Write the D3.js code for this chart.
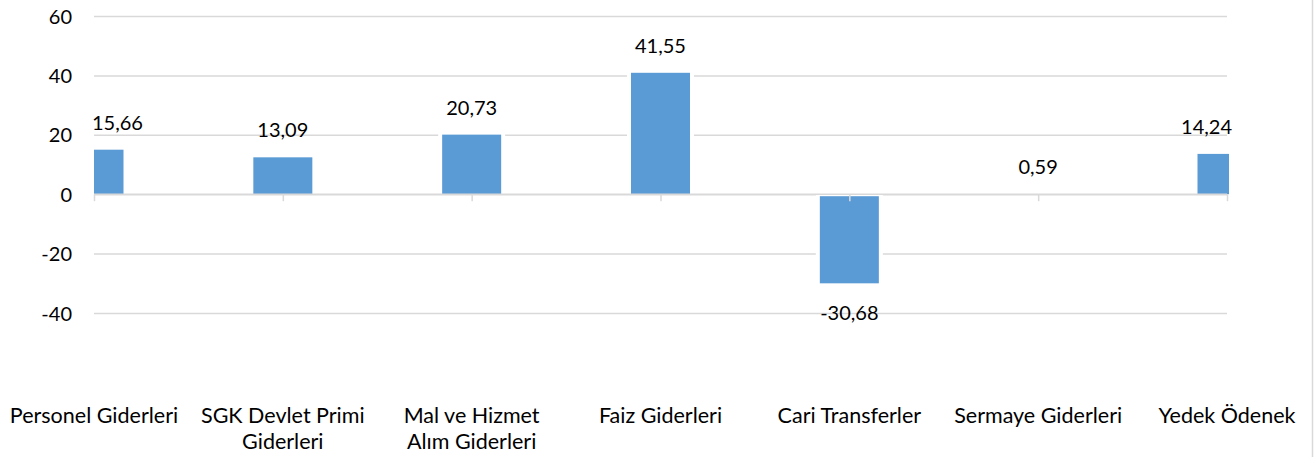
<!DOCTYPE html>
<html>
<head>
<meta charset="utf-8">
<script src="https://cdn.jsdelivr.net/npm/d3@7"></script>
<style>
  html, body { margin: 0; padding: 0; background: #fff; }
  svg { display: block; }
  text { font-family: Lato, "Open Sans", sans-serif; fill: #000; }
</style>
</head>
<body>
<svg id="chart" width="1315" height="457"></svg>
<script>
// ---- data ----
const categories = [
  "Personel Giderleri",
  "SGK Devlet Primi\nGiderleri",
  "Mal ve Hizmet\nAlım Giderleri",
  "Faiz Giderleri",
  "Cari Transferler",
  "Sermaye Giderleri",
  "Yedek Ödenek"
];
const values = [15.66, 13.09, 20.73, 41.55, -30.68, 0.59, 14.24];
const valueLabels = ["15,66", "13,09", "20,73", "41,55", "-30,68", "0,59", "14,24"];
const yTicks = [-40, -20, 0, 20, 40, 60];

// ---- layout ----
const W = 1315, H = 457;
const plot = { left: 94, right: 1227, top: 16, bottom: 313 };
const svg = d3.select("#chart");

const x = d3.scalePoint().domain(d3.range(categories.length)).range([plot.left, plot.right]).padding(0);
const y = d3.scaleLinear().domain([-40, 60]).range([plot.bottom, plot.top]);
const step = x.step();
const barW = step * 0.3125;
const inset = 2;

// clip for plot area
svg.append("defs").append("clipPath").attr("id", "clip")
  .append("rect").attr("x", plot.left).attr("y", 0).attr("width", plot.right - plot.left + 2).attr("height", H);

// right border
svg.append("line").attr("x1", 1312.5).attr("x2", 1312.5).attr("y1", 0).attr("y2", H)
  .attr("stroke", "#d9d9d9").attr("stroke-width", 1.5);

// gridlines
const yAxis = d3.axisLeft(y).tickValues(yTicks).tickSize(-(plot.right - plot.left)).tickFormat(d => d);
const gy = svg.append("g").attr("transform", `translate(${plot.left},0)`).call(yAxis);
gy.select(".domain").remove();
gy.selectAll(".tick line").attr("stroke", "#d9d9d9").attr("stroke-width", 1.5);
gy.selectAll(".tick text").attr("x", -22).attr("dy", "0.35em").style("font-size", "20px")
  .style("font-family", "Lato, 'Open Sans', sans-serif").attr("fill", "#000");

// bars
const gb = svg.append("g").attr("clip-path", "url(#clip)");
gb.selectAll("rect.halo").data(values).join("rect").attr("class", "halo")
  .attr("x", (d, i) => x(i) - barW / 2 - 4)
  .attr("width", barW + 8)
  .attr("y", d => Math.min(y(d), y(0)))
  .attr("height", d => Math.abs(y(d) - y(0)))
  .attr("fill", "#fff");
gb.selectAll("rect.bar").data(values).join("rect").attr("class", "bar")
  .attr("x", (d, i) => x(i) - barW / 2)
  .attr("width", barW)
  .attr("y", d => d >= 0 ? y(d) + inset : y(0) + inset)
  .attr("height", d => Math.max(0, Math.abs(y(d) - y(0)) - inset - (d < 0 ? inset : 0)))
  .attr("fill", "#5b9bd5");

// zero axis line + ticks
const xAxis = d3.axisBottom(x).tickSize(7).tickFormat("");
const gx = svg.append("g").attr("transform", `translate(0,${y(0)})`).call(xAxis);
gx.select(".domain").attr("d", `M${plot.left},0H${plot.right}`).attr("stroke", "#d9d9d9").attr("stroke-width", 1.5);
gx.selectAll(".tick line").attr("stroke", "#d9d9d9").attr("stroke-width", 1.5);

// value labels (kept inside plot area)
const gl = svg.append("g");
gl.selectAll("text").data(values).join("text")
  .attr("text-anchor", "middle")
  .style("font-size", "20px")
  .attr("dy", "0.35em")
  .attr("y", d => d >= 0 ? y(d) - 25 : y(d) + 28)
  .text((d, i) => valueLabels[i])
  .each(function(d, i) {
    const w = this.getComputedTextLength();
    let cx = x(i);
    cx = Math.max(plot.left - 2 + w / 2, Math.min(plot.right + 5 - w / 2, cx));
    d3.select(this).attr("x", cx);
  });

// category labels
const gc = svg.append("g");
categories.forEach((c, i) => {
  const t = gc.append("text").attr("text-anchor", "middle").style("font-size", "21.5px")
    .attr("x", x(i)).attr("y", 415);
  c.split("\n").forEach((line, k) => {
    t.append("tspan").attr("x", x(i)).attr("dy", k === 0 ? "0.35em" : 26).text(line);
  });
});
</script>
</body>
</html>
